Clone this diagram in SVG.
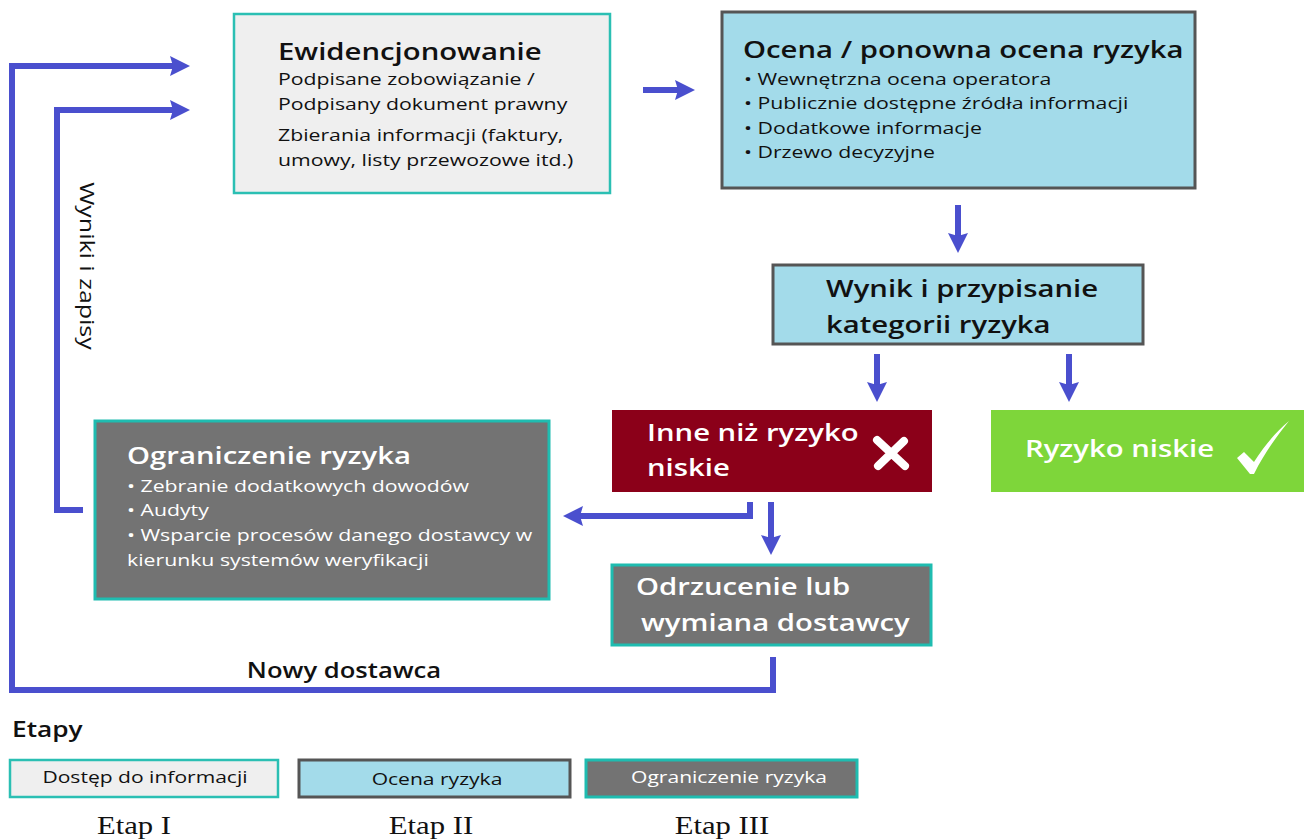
<svg xmlns="http://www.w3.org/2000/svg" width="1304" height="839" viewBox="0 0 1304 839">
<defs>
<marker id="ah" markerWidth="22" markerHeight="22" refX="4" refY="11" orient="auto" markerUnits="userSpaceOnUse">
<path d="M0,1 L20,11 L0,21 L3,11 z" fill="#4a4fce"/>
</marker>
<style>
.conn{fill:none;stroke:#4a4fce;stroke-width:6}
.t{font-family:"Open Sans","Liberation Sans",sans-serif}
.title{font-size:24px;font-weight:600;fill:#111}
.body{font-size:17px;fill:#111}
.w{fill:#fff}
.grey{fill:#efefef;stroke:#2bbfb3;stroke-width:2.5}
.blue{fill:#a3dbea;stroke:#555;stroke-width:3}
.dark{fill:#737373;stroke:#1fbcb0;stroke-width:3}
</style>
</defs>
<rect width="1304" height="839" fill="#fff"/>

<g id="connectors">
<path class="conn" d="M773,657 V690 H12 V66 H174" marker-end="url(#ah)"/>
<path class="conn" d="M83,510 H57 V110 H174" marker-end="url(#ah)"/>
<path class="conn" d="M643,90 H679" marker-end="url(#ah)"/>
<path class="conn" d="M958,205 V237" marker-end="url(#ah)"/>
<path class="conn" d="M877,354 V386" marker-end="url(#ah)"/>
<path class="conn" d="M1069,354 V386" marker-end="url(#ah)"/>
<path class="conn" d="M750,502 V516 H579" marker-end="url(#ah)"/>
<path class="conn" d="M771,502 V539" marker-end="url(#ah)"/>
<text class="t" transform="translate(88 266) rotate(90) scale(1.25 1)" text-anchor="middle" dominant-baseline="central" font-size="20" fill="#111">Wyniki i zapisy</text>
<text class="t" transform="translate(344 678) scale(1.22 1)" text-anchor="middle" font-size="21" font-weight="600" fill="#111">Nowy dostawca</text>
</g>

<g id="ewidencjonowanie">
<rect class="grey" x="234" y="14" width="376" height="179"/>
<text class="t title" transform="translate(278 60) scale(1.22 1)">Ewidencjonowanie</text>
<text class="t body" transform="translate(278 85) scale(1.25 1)">Podpisane zobowiązanie /</text>
<text class="t body" transform="translate(278 110) scale(1.25 1)">Podpisany dokument prawny</text>
<text class="t body" transform="translate(278 141) scale(1.25 1)">Zbierania informacji (faktury,</text>
<text class="t body" transform="translate(278 166) scale(1.25 1)">umowy, listy przewozowe itd.)</text>
</g>

<g id="ocena">
<rect class="blue" x="722" y="12" width="473" height="176"/>
<text class="t title" transform="translate(743 58) scale(1.22 1)">Ocena / ponowna ocena ryzyka</text>
<text class="t body" transform="translate(744 85) scale(1.25 1)">• Wewnętrzna ocena operatora</text>
<text class="t body" transform="translate(744 109) scale(1.25 1)">• Publicznie dostępne źródła informacji</text>
<text class="t body" transform="translate(744 134) scale(1.25 1)">• Dodatkowe informacje</text>
<text class="t body" transform="translate(744 158) scale(1.25 1)">• Drzewo decyzyjne</text>
</g>

<g id="wynik">
<rect class="blue" x="773" y="265" width="370" height="79"/>
<text class="t title" transform="translate(826 297) scale(1.22 1)">Wynik i przypisanie</text>
<text class="t title" transform="translate(826 333) scale(1.22 1)">kategorii ryzyka</text>
</g>

<g id="inne">
<rect x="612" y="410" width="320" height="82" fill="#8b0019"/>
<text class="t title w" transform="translate(647 441) scale(1.22 1)">Inne niż ryzyko</text>
<text class="t title w" transform="translate(647 476) scale(1.22 1)">niskie</text>
<path d="M877,440 L905,466 M904,441 L878,466" stroke="#fff" stroke-width="8" stroke-linecap="round"/>
</g>

<g id="ryzyko-niskie">
<rect x="991" y="410" width="313" height="82" fill="#7ed63a"/>
<text class="t title w" transform="translate(1025 457) scale(1.22 1)">Ryzyko niskie</text>
<path d="M1237,458 L1244,452 L1254,462 C1265,445 1275,433 1289,421 C1276,437 1264,454 1254,474 L1250,474 Z" fill="#fff"/>
</g>

<g id="ograniczenie">
<rect class="dark" x="95" y="421" width="454" height="178"/>
<text class="t title w" transform="translate(127 464) scale(1.22 1)">Ograniczenie ryzyka</text>
<text class="t body w" transform="translate(127 492) scale(1.25 1)">• Zebranie dodatkowych dowodów</text>
<text class="t body w" transform="translate(127 516) scale(1.25 1)">• Audyty</text>
<text class="t body w" transform="translate(127 541) scale(1.25 1)">• Wsparcie procesów danego dostawcy w</text>
<text class="t body w" transform="translate(127 566) scale(1.25 1)">kierunku systemów weryfikacji</text>
</g>

<g id="odrzucenie">
<rect class="dark" x="612" y="565" width="319" height="80"/>
<text class="t title w" transform="translate(636 595) scale(1.22 1)">Odrzucenie lub</text>
<text class="t title w" transform="translate(641 631) scale(1.22 1)">wymiana dostawcy</text>
</g>

<g id="legend">
<text class="t" transform="translate(12 737) scale(1.25 1)" font-size="21" font-weight="600" fill="#111">Etapy</text>
<rect class="grey" x="10" y="760" width="268" height="37" stroke-width="3"/>
<text class="t" transform="translate(145 783) scale(1.24 1)" text-anchor="middle" font-size="17" fill="#111">Dostęp do informacji</text>
<rect class="blue" x="299" y="760" width="271" height="37"/>
<text class="t" transform="translate(437 785) scale(1.24 1)" text-anchor="middle" font-size="17" fill="#111">Ocena ryzyka</text>
<rect class="dark" x="586" y="760" width="271" height="37"/>
<text class="t" transform="translate(729 783) scale(1.24 1)" text-anchor="middle" font-size="17" fill="#fff">Ograniczenie ryzyka</text>
<text transform="translate(134 834) scale(1.18 1)" text-anchor="middle" font-family="Liberation Serif, serif" font-size="26" fill="#111">Etap I</text>
<text transform="translate(431 834) scale(1.18 1)" text-anchor="middle" font-family="Liberation Serif, serif" font-size="26" fill="#111">Etap II</text>
<text transform="translate(722 834) scale(1.18 1)" text-anchor="middle" font-family="Liberation Serif, serif" font-size="26" fill="#111">Etap III</text>
</g>
</svg>
